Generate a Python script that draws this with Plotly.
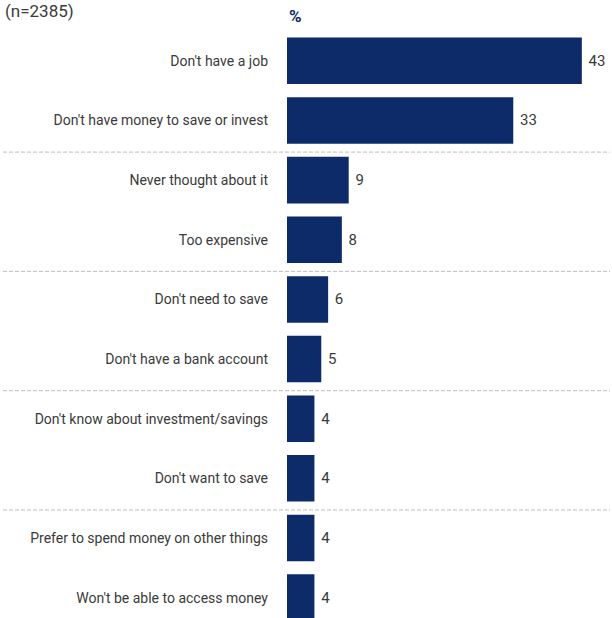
import plotly.graph_objects as go

categories = [
    "Don't have a job",
    "Don't have money to save or invest",
    "Never thought about it",
    "Too expensive",
    "Don't need to save",
    "Don't have a bank account",
    "Don't know about investment/savings",
    "Don't want to save",
    "Prefer to spend money on other things",
    "Won't be able to access money",
]
values = [43, 33, 9, 8, 6, 5, 4, 4, 4, 4]
sample_note = "(n=2385)"
unit_label = "%"
separators = [1.5, 3.5, 5.5, 7.5]

NAVY = "#0e2b69"
TEXT = "#3a3a3a"
FONT = "Roboto"

W, H = 612, 618
LEFT = 287
TOP = 31.45
PITCH = 59.6

fig = go.Figure(
    go.Bar(
        x=values,
        y=list(range(len(categories))),
        orientation="h",
        marker=dict(color=NAVY, line=dict(width=0)),
        text=values,
        texttemplate=" %{text}",
        textposition="outside",
        textfont=dict(family=FONT, size=15, color=TEXT),
        cliponaxis=False,
        hoverinfo="skip",
    )
)

y_bottom = -0.5 + (H - TOP) / PITCH

for s in separators:
    fig.add_shape(
        type="line", xref="paper", yref="y",
        x0=(3 - LEFT) / (W - LEFT), x1=(610 - LEFT) / (W - LEFT),
        y0=s + 0.03, y1=s + 0.03,
        line=dict(color="#bdbdbd", width=1, dash="4px,2px"),
        layer="below",
    )

fig.add_annotation(
    text=sample_note, xref="paper", yref="paper",
    x=(3 - LEFT) / (W - LEFT), xanchor="left",
    y=1, yanchor="middle", yshift=TOP - 11,
    showarrow=False,
    font=dict(family=FONT, size=17, color=TEXT),
)
fig.add_annotation(
    text=f"<b>{unit_label}</b>", xref="paper", yref="paper",
    x=(287 - LEFT) / (W - LEFT), xanchor="left",
    y=1, yanchor="middle", yshift=TOP - 16,
    showarrow=False,
    font=dict(family=FONT, size=17, color=NAVY),
)

fig.update_layout(
    width=W, height=H,
    margin=dict(l=LEFT, r=0, t=TOP, b=0),
    paper_bgcolor="white", plot_bgcolor="white",
    bargap=0.22,
    showlegend=False,
    xaxis=dict(range=[0, 47.4], visible=False, fixedrange=True),
    yaxis=dict(
        range=[y_bottom, -0.5],
        tickmode="array",
        tickvals=list(range(len(categories))),
        ticktext=categories,
        ticks="",
        showgrid=False, zeroline=False, showline=False,
        ticklabelstandoff=18,
        tickfont=dict(family=FONT, size=14, color=TEXT),
    ),
)

fig.write_html("out.html")
